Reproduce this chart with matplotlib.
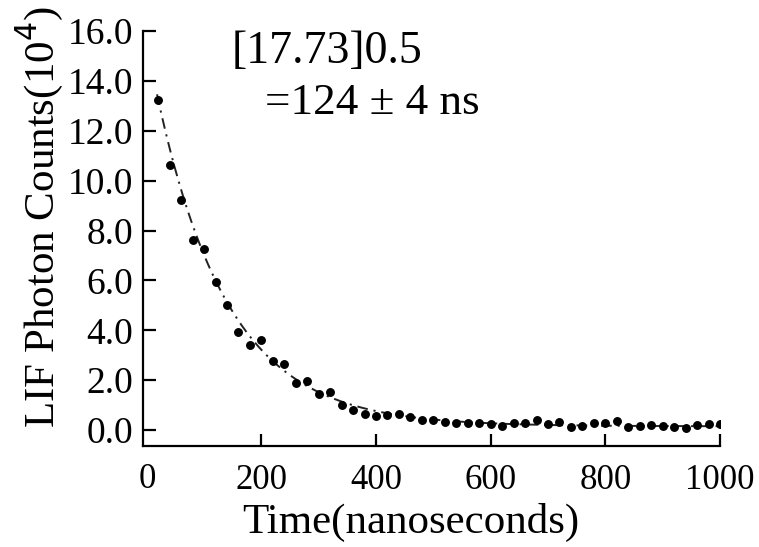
import matplotlib
matplotlib.use("Agg")
import matplotlib.pyplot as plt
import numpy as np

# measured LIF decay (x in ns, y in 10^4 counts)
time_ns = [20, 40, 60, 80, 100, 120, 140, 160, 180, 200,
           220, 240, 260, 280, 300, 320, 340, 360, 380, 400,
           420, 440, 460, 480, 500, 520, 540, 560, 580, 600,
           620, 640, 660, 680, 700, 720, 740, 760, 780, 800,
           820, 840, 860, 880, 900, 920, 940, 960, 980, 1000]
counts = [13.25, 10.61, 9.22, 7.62, 7.26, 5.94, 5.01, 3.92, 3.43, 3.61,
          2.78, 2.64, 1.89, 1.96, 1.46, 1.53, 1.00, 0.82, 0.64, 0.57,
          0.60, 0.64, 0.51, 0.40, 0.39, 0.31, 0.29, 0.29, 0.27, 0.24,
          0.17, 0.29, 0.27, 0.40, 0.24, 0.31, 0.13, 0.17, 0.27, 0.27,
          0.37, 0.13, 0.15, 0.19, 0.17, 0.13, 0.09, 0.20, 0.24, 0.24]

# single exponential fit parameters
fit_amp = 15.39
fit_tau = 124.0
fit_offset = 0.15

x_ticks = [0, 200, 400, 600, 800, 1000]
y_ticks = [0, 2, 4, 6, 8, 10, 12, 14, 16]

plt.rcParams['font.family'] = ['Liberation Serif', 'DejaVu Serif']

fig = plt.figure(figsize=(7.59, 5.47), dpi=100)
ax = fig.add_axes([0.1884, 0.1846, 0.9486 - 0.1884, 0.9433 - 0.1846])

t_fit = np.linspace(18, 1000, 400)
y_fit = fit_amp * np.exp(-t_fit / fit_tau) + fit_offset
ax.plot(t_fit, y_fit, color='#222222', lw=1.4, linestyle=(0, (5.5, 3, 1.1, 3)))
ax.plot(time_ns, counts, 'o', color='black', markersize=5.4)

ax.set_xlim(-6.5, 1000)
ax.set_ylim(-0.64, 16.0)
ax.set_xticks(x_ticks[1:])
ax.set_yticks(y_ticks)
ax.set_yticklabels([f"{v:.1f}" for v in y_ticks])

for side in ['top', 'right']:
    ax.spines[side].set_visible(False)
for side in ['left', 'bottom']:
    ax.spines[side].set_linewidth(1.6)

ax.tick_params(direction='in', length=9, width=1.6)
ax.tick_params(axis='y', pad=7, labelsize=27)
ax.tick_params(axis='x', pad=13, labelsize=25)

# the "0" label sits without a tick mark at the corner
fig.text(147 / 759, 1 - 479 / 547, "0", fontsize=25, ha='center', va='center')

fig.text(411 / 759, 1 - 522 / 547, "Time(nanoseconds)", fontsize=31,
         ha='center', va='center')
fig.text(40 / 759, 1 - 217 / 547, "LIF Photon Counts(10$^4$)", fontsize=31,
         ha='center', va='center', rotation=90)

fig.text(232 / 759, 1 - 52 / 547, "[17.73]0.5", fontsize=33, ha='left', va='center')
fig.text(265 / 759, 1 - 103 / 547, "=124 \u00b1 4 ns", fontsize=32.5, ha='left', va='center')

fig.savefig("out.png", dpi=100)
